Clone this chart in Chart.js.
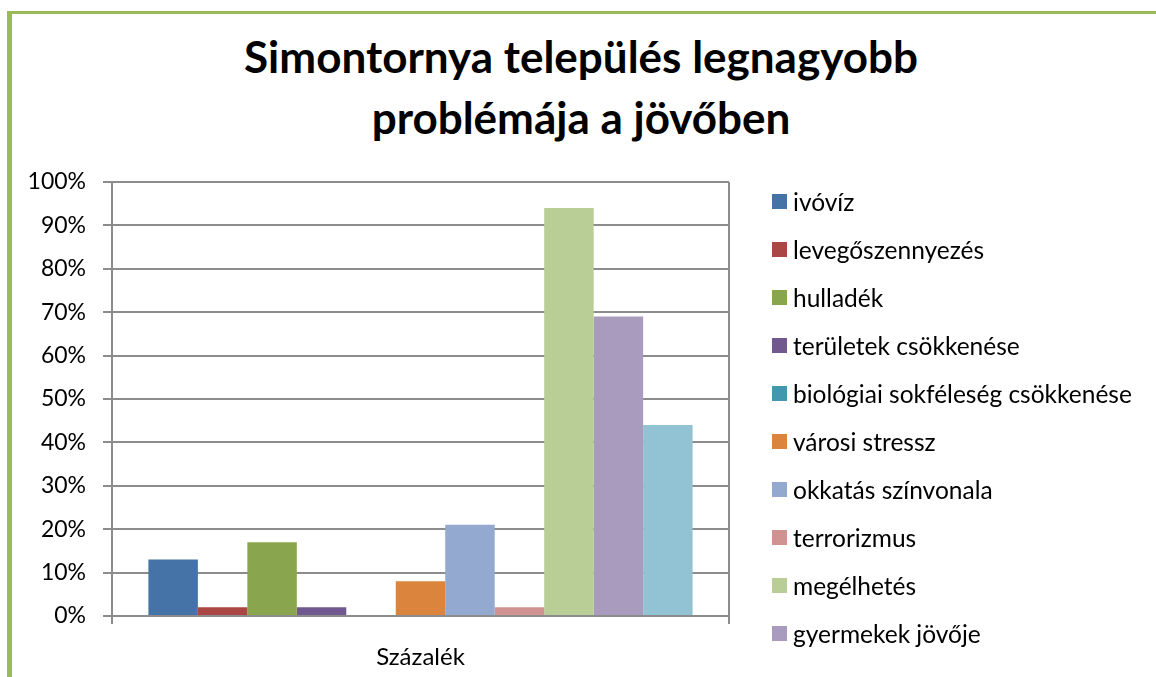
<!DOCTYPE html>
<html>
<head>
<meta charset="utf-8">
<script src="https://cdn.jsdelivr.net/npm/chart.js"></script>
<style>
html,body{margin:0;padding:0;background:#fff;overflow:hidden}
#wrap{position:relative;width:1156px;height:677px;overflow:hidden;font-family:Lato,'Open Sans',sans-serif;color:#000}
#frame{position:absolute;left:7px;top:11px;width:1400px;height:900px;border-left:5px solid #9bbb59;border-top:3px solid #9bbb59;box-sizing:border-box}
#title{position:absolute;left:0;width:1162px;top:26px;text-align:center;font-weight:bold;font-size:44px;line-height:61px;white-space:nowrap}
#chart{position:absolute;left:0;top:0}
#legend{position:absolute;left:0;top:0;width:1156px;height:677px;pointer-events:none}
.item{position:absolute;left:772px;height:30px;display:flex;align-items:center;white-space:nowrap;font-size:24.5px}
.box{width:15px;height:15px;margin-right:6px;flex:none}
</style>
</head>
<body>
<div id="wrap">
  <div id="frame"></div>
  <div id="title">Simontornya település legnagyobb<br>problémája a jövőben</div>
  <canvas id="chart" width="1156" height="677"></canvas>
  <div id="legend"></div>
</div>
<script>
const categories = ['Százalék'];
const seriesNames = ['ivóvíz', 'levegőszennyezés', 'hulladék', 'területek csökkenése',
  'biológiai sokféleség csökkenése', 'városi stressz', 'okkatás színvonala',
  'terrorizmus', 'megélhetés', 'gyermekek jövője', ''];
const seriesValues = [13, 2, 17, 2, 0, 8, 21, 2, 94, 69, 44];
const seriesColors = ['#4572a7', '#aa4643', '#89a54e', '#71588f', '#4198af', '#db843d',
  '#93a9cf', '#d19392', '#b9cd96', '#a99bbd', '#92c3d4'];
const yTickValues = [0, 10, 20, 30, 40, 50, 60, 70, 80, 90, 100];
const yTickLabels = ['0%', '10%', '20%', '30%', '40%', '50%', '60%', '70%', '80%', '90%', '100%'];
const legendCount = 10; // the last entry is cut off in the original picture

const gridColor = '#8c8c8c';
const fontFamily = 'Lato, "Open Sans", sans-serif';

const datasets = seriesNames.map((name, i) => ({
  label: name,
  data: [seriesValues[i]],
  backgroundColor: seriesColors[i],
  borderWidth: 0,
  categoryPercentage: 0.882,
  barPercentage: 1.0
}));

const chart = new Chart(document.getElementById('chart'), {
  type: 'bar',
  data: { labels: categories, datasets: datasets },
  options: {
    responsive: false,
    animation: false,
    devicePixelRatio: 1,
    layout: { padding: { left: 0, top: 182, right: 427, bottom: 0 } },
    plugins: { legend: { display: false }, title: { display: false }, tooltip: { enabled: false } },
    scales: {
      x: {
        offset: true,
        grid: { display: true, offset: true, color: gridColor, lineWidth: 2, tickLength: 8, drawOnChartArea: true },
        border: { display: true, color: gridColor, width: 2 },
        ticks: { color: '#000', font: { family: fontFamily, size: 24 }, padding: 19 },
        afterFit: (s) => { s.height = 61; }
      },
      y: {
        min: 0, max: 100,
        afterBuildTicks: (s) => { s.ticks = yTickValues.map(v => ({ value: v })); },
        grid: { color: gridColor, lineWidth: 2, tickLength: 9 },
        border: { display: true, color: gridColor, width: 2 },
        ticks: {
          color: '#000', font: { family: fontFamily, size: 23 }, padding: 17,
          callback: (v) => yTickLabels[yTickValues.indexOf(v)]
        },
        afterFit: (s) => { s.width = 112; }
      }
    }
  }
});

const legend = document.getElementById('legend');
chart.data.datasets.slice(0, legendCount).forEach((ds, i) => {
  const item = document.createElement('div');
  item.className = 'item';
  item.style.top = (201 + 48 * i - 15) + 'px';
  const box = document.createElement('span');
  box.className = 'box';
  box.style.background = ds.backgroundColor;
  const txt = document.createElement('span');
  txt.textContent = ds.label;
  item.appendChild(box);
  item.appendChild(txt);
  legend.appendChild(item);
});
</script>
</body>
</html>
